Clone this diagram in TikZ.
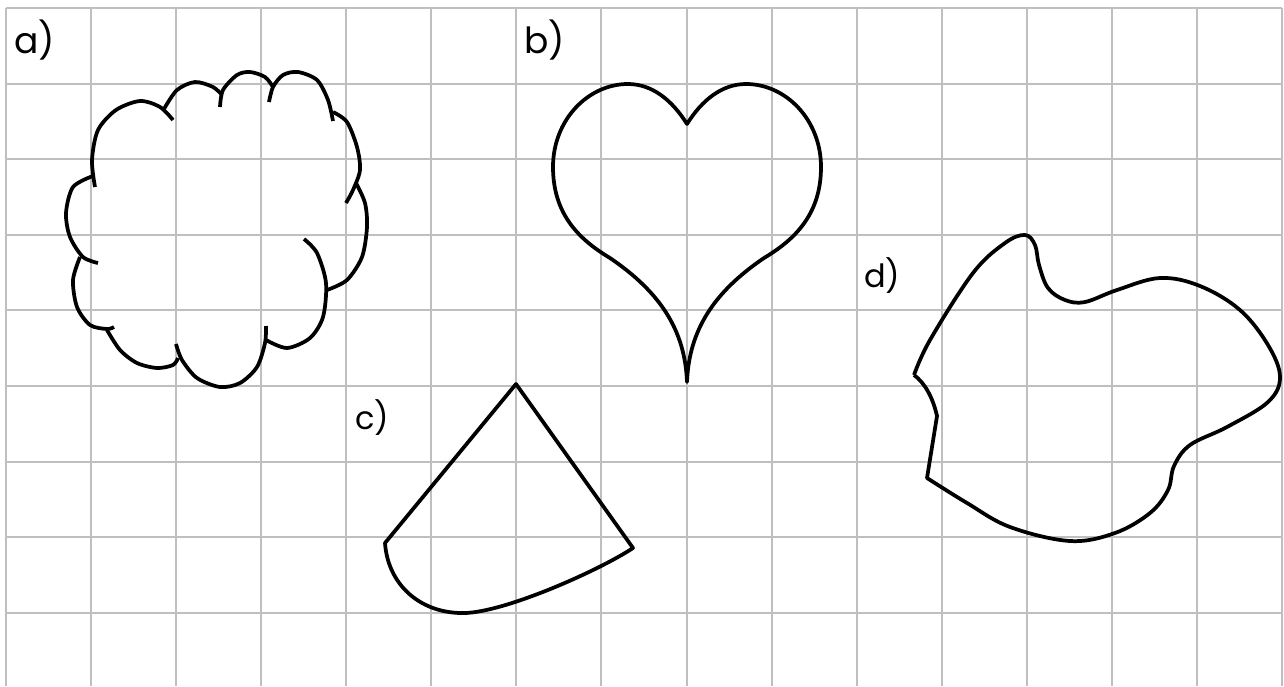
\documentclass[tikz,border=0pt]{standalone}
\usepackage{fontspec}
\setmainfont{Poppins}
\begin{document}
\begin{tikzpicture}[x=0.75pt,y=-0.75pt,
  gridline/.style={line width=1.5pt,color=black!25},
  outline/.style={line width=2.8pt,line join=round},
  lbl/.style={anchor=base west,inner sep=0pt,font=\fontsize{27}{30}\selectfont},
  smalllbl/.style={lbl,font=\fontsize{24}{28}\selectfont}]
%%Frame
\useasboundingbox (0,0) rectangle (1284,686);
%%Grid
\foreach \i in {0,...,15} \draw[gridline] ({6+85.07*\i},8) -- ({6+85.07*\i},686);
\foreach \j in {0,...,8} \draw[gridline] (6,{8+75.6*\j}) -- (1282,{8+75.6*\j});
%%Labels
\node[lbl] (lblA) at (14,53) {a)};
\node[lbl] (lblB) at (524,53) {b)};
\node[smalllbl] (lblC) at (355,429) {c)};
\node[smalllbl] (lblD) at (864,287) {d)};
%%Cloud
\draw[outline] plot[smooth] coordinates {(95,187) (92,160) (98,130) (116,110) (140,101) (160,107) (173,120)};
\draw[outline] plot[smooth] coordinates {(164,109) (177,90) (195,82) (213,87) (222,95)};
\draw[outline] plot[smooth] coordinates {(220,107) (223,90) (237,75) (250,72) (265,77) (273,87)};
\draw[outline] plot[smooth] coordinates {(269,102) (273,87) (283,75) (298,72) (317,80) (328,100) (333,121)};
\draw[outline] plot[smooth] coordinates {(333,112) (347,122) (357,147) (360,170) (353,190) (346,203)};
\draw[outline] plot[smooth] coordinates {(356,183) (365,203) (367,227) (362,257) (347,280) (327,290)};
\draw[outline] plot[smooth] coordinates {(304,239) (317,253) (326,283) (323,317) (310,338) (287,348) (266,340)};
\draw[outline] plot[smooth] coordinates {(266,326) (265,343) (257,367) (240,383) (220,387) (197,378) (182,360) (176,344)};
\draw[outline] plot[smooth] coordinates {(178,358) (173,365) (157,368) (137,363) (120,350) (107,330)};
\draw[outline] plot[smooth] coordinates {(114,327) (107,329) (90,325) (77,307) (73,280) (80,257)};
\draw[outline] plot[smooth] coordinates {(98,263) (83,257) (70,237) (66,213) (73,187) (93,176)};
%%Heart
\draw[outline] (687,124) .. controls (672,100) and (652,84) .. (628,84)
  .. controls (588,84) and (553,120) .. (553,167)
  .. controls (553,215) and (580,240) .. (610,258)
  .. controls (660,292) and (685,330) .. (687,382)
  .. controls (689,330) and (714,292) .. (764,258)
  .. controls (794,240) and (821,215) .. (821,167)
  .. controls (821,120) and (786,84) .. (746,84)
  .. controls (722,84) and (702,100) .. (687,124) -- cycle;
%%Sector
\draw[outline] (385,543) -- (516,384) -- (633,548)
  .. controls (600,570) and (500,615) .. (460,613)
  .. controls (420,612) and (388,585) .. (385,543) -- cycle;
%%Blob
\draw[outline] plot[smooth,tension=0.6] coordinates {(914,375) (930,340) (973,273) (1005,243) (1025,235) (1035,245) (1039,265) (1048,288) (1065,300) (1085,302) (1117,290) (1160,278) (1200,286) (1240,310) (1268,345) (1280,377) (1268,402) (1227,427) (1190,445) (1174,466) (1168,490) (1150,513) (1115,533) (1070,541) (1010,527) (967,503) (927,478)}
  -- (937,416) .. controls (933,398) and (925,383) .. (914,375);
\end{tikzpicture}
\end{document}
